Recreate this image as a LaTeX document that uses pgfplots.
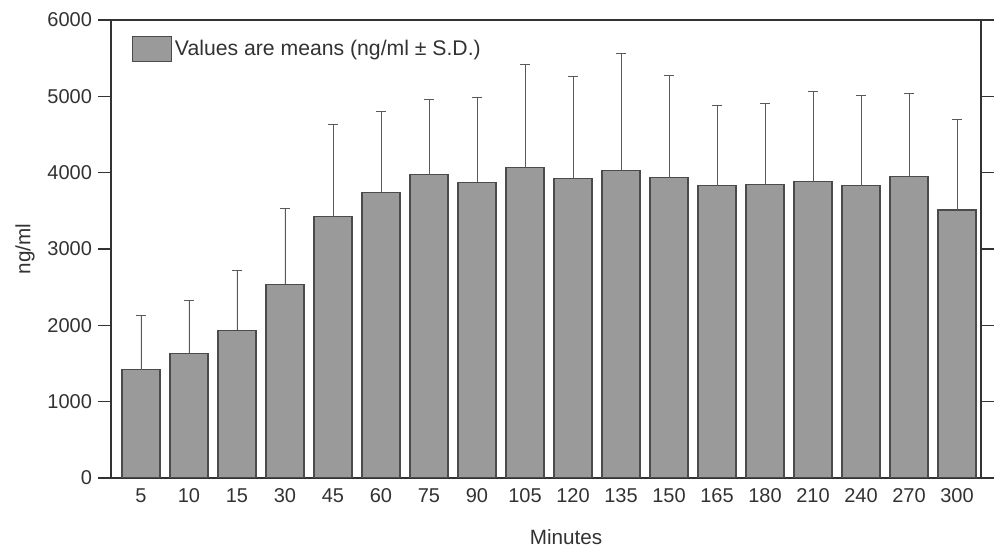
\documentclass[border=0pt]{standalone}
\usepackage{fontspec}
\setmainfont{Liberation Sans}
\usepackage{pgfplots}
\usepackage{pgfplotstable}
\pgfplotsset{compat=1.18}
\pgfplotstableread{
x  mean  sd
0  1417  708
1  1632  690
2  1933  786
3  2537  991
4  3423  1202
5  3743  1065
6  3972  987
7  3876  1110
8  4065  1357
9  3920  1335
10 4023  1539
11 3936  1333
12 3831  1055
13 3840  1069
14 3881  1178
15 3826  1188
16 3945  1092
17 3511  1183
}\datatable
\definecolor{barfill}{RGB}{154,154,154}
\definecolor{bardraw}{RGB}{75,75,75}
\definecolor{txt}{RGB}{50,50,50}
\begin{document}
\begin{tikzpicture}
\begin{axis}[
  scale only axis,
  width=652.5pt, height=343.5pt,
  xmin=-0.625, xmax=17.5,
  ymin=0, ymax=6000,
  ytick={0,1000,...,6000},
  xtick={0,...,17},
  xticklabels={5,10,15,30,45,60,75,90,105,120,135,150,165,180,210,240,270,300},
  x tick style={draw=none},
  ytick pos=both,
  tick align=outside,
  major tick length=9.75pt,
  y tick style={line width=0.8pt, color=txt},
  axis line style={line width=1pt, color=black!80},
  scaled y ticks=false,
  /pgf/number format/assume math mode=true,
  yticklabel={\pgfmathprintnumber[fixed,1000 sep={}]{\tick}},
  tick label style={font=\fontsize{15}{17}\selectfont, color=txt},
  xticklabel style={yshift=5pt},
  yticklabel style={xshift=-1pt},
  ylabel={ng/ml},
  xlabel={Minutes},
  label style={font=\fontsize{15.5}{18}\selectfont, color=txt},
  ylabel style={at={(axis description cs:-0.0989,0.5)}, anchor=center},
  xlabel style={at={(axis description cs:0.523,-0.129)}, anchor=center},
  legend style={draw=none, fill=none, at={(0,1)}, anchor=north west,
    xshift=12.75pt, yshift=-10pt, font=\fontsize{15.9}{18}\selectfont, text=txt},
  legend image code/.code={\draw[#1] (0pt,-9.375pt) rectangle (29.25pt,9.375pt);},
]
\addplot[ybar, bar width=28.5pt, bar shift=0pt, fill=barfill, draw=bardraw, line width=0.8pt,
  error bars/.cd, y dir=plus, y explicit,
  error bar style={line width=0.7pt, color=black!65},
  error mark options={line width=0.7pt, color=black!65, mark size=4pt, rotate=90}]
  table[x=x, y=mean, y error=sd]{\datatable};
\addlegendentry{Values are means (ng/ml ± S.D.)}
\end{axis}
\path (current axis.south west) ++(-83.25pt,-51.75pt) coordinate (bbA);
\path (current axis.north east) ++(12pt,15pt) coordinate (bbB);
\path (bbA) rectangle (bbB);
\end{tikzpicture}
\end{document}
